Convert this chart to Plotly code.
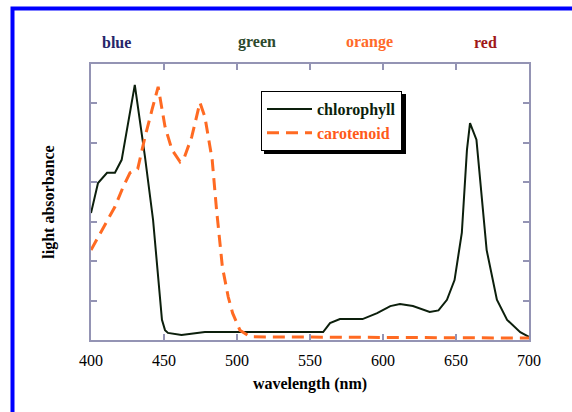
import plotly.graph_objects as go

# Chlorophyll absorbance
chl_wavelength = [400, 404.8, 411, 416.4, 421, 430, 437, 442.5, 448.6, 450.7, 452.7, 462, 478, 505,
                  559, 563.7, 570.5, 586, 596, 605, 611.6, 620.5, 632, 638, 643.8, 649, 654, 657.5,
                  659.6, 664, 668, 671, 678, 685, 694, 700]
chl_absorb = [3.22, 3.98, 4.24, 4.24, 4.57, 6.47, 4.64, 3.05, 0.51, 0.25, 0.18, 0.13, 0.2, 0.2,
              0.2, 0.43, 0.53, 0.53, 0.68, 0.86, 0.91, 0.86, 0.71, 0.75, 1.02, 1.52, 2.72, 4.82,
              5.5, 5.08, 3.55, 2.28, 1.02, 0.51, 0.2, 0.08]

# Carotenoid absorbance
car_wavelength = [400, 407.5, 416.4, 422, 426.7, 432, 437, 441.8, 446, 450.7, 455.5, 461, 464, 469,
                  474.6, 478, 483, 486, 488, 490, 494, 497, 502, 509, 700]
car_absorb = [2.28, 2.79, 3.38, 3.88, 4.24, 4.34, 5.15, 5.84, 6.42, 5.41, 4.82, 4.52, 4.64, 5.15,
              6.02, 5.66, 4.57, 3.3, 2.54, 1.85, 1.09, 0.68, 0.25, 0.08, 0.05]

x_ticks = [400, 450, 500, 550, 600, 650, 700]
x_tick_labels = ["400", "450", "500", "550", "600", "650", "700"]

color_names = ["blue", "green", "orange", "red"]
color_label_pos = [417.8, 513.7, 591, 670]
color_label_colors = ["#26266a", "#2e4a2e", "#ff6a2a", "#a01818"]

SERIF = "Liberation Serif"
FRAME = "#9494b4"

# plot area in pixels: left 91, right 529, top 64, bottom 340
def px_x(p):
    return (p - 91) / 438

def px_y(p):
    return (340 - p) / 276

fig = go.Figure()
fig.add_trace(go.Scatter(
    x=chl_wavelength, y=chl_absorb, mode="lines", name="<b>chlorophyll</b>",
    line=dict(color="#0c1f0c", width=2)))
fig.add_trace(go.Scatter(
    x=car_wavelength, y=car_absorb, mode="lines",
    name='<b><span style="color:#ff5a1a">carotenoid</span></b>',
    line=dict(color="#ff6a22", width=3, dash="12px,7px")))

annotations = []
for name, pos, col in zip(color_names, color_label_pos, color_label_colors):
    annotations.append(dict(x=pos, y=px_y(42), xref="x", yref="paper", yanchor="middle",
                            text="<b>" + name + "</b>", showarrow=False,
                            font=dict(family=SERIF, size=16, color=col)))

fig.update_layout(
    width=572, height=412,
    margin=dict(l=91, r=43, t=64, b=72),
    paper_bgcolor="white", plot_bgcolor="white",
    showlegend=True,
    legend=dict(x=px_x(261), y=px_y(91), xanchor="left", yanchor="top",
                bgcolor="white", bordercolor="black", borderwidth=1,
                font=dict(family=SERIF, size=16, color="#0c1f0c"),
                tracegroupgap=0, itemwidth=45),
    annotations=annotations,
    shapes=[
        # drop shadow of legend box
        dict(type="rect", xref="paper", yref="paper",
             x0=px_x(264), x1=px_x(406), y0=px_y(154), y1=px_y(94),
             fillcolor="black", line=dict(width=0), layer="below"),
        # blue page frame
        dict(type="rect", xref="paper", yref="paper",
             x0=px_x(12.5), x1=2, y0=-1, y1=px_y(8.5),
             line=dict(color="#0000ff", width=4), fillcolor="rgba(0,0,0,0)"),
    ],
    xaxis=dict(range=[400, 700], tickvals=x_ticks, ticktext=x_tick_labels,
               showline=True, linecolor=FRAME, linewidth=2, mirror="ticks",
               ticks="inside", ticklen=6, tickwidth=2, tickcolor=FRAME,
               ticklabelstandoff=5,
               showgrid=False, zeroline=False,
               tickfont=dict(family=SERIF, size=16, color="black"),
               title=dict(text="<b>wavelength (nm)</b>", standoff=10,
                          font=dict(family=SERIF, size=16, color="black"))),
    yaxis=dict(range=[0, 7], dtick=1, showticklabels=False,
               showline=True, linecolor=FRAME, linewidth=2, mirror="ticks",
               ticks="inside", ticklen=6, tickwidth=2, tickcolor=FRAME,
               showgrid=False, zeroline=False,
               title=dict(text="<b>light absorbance</b>", standoff=30,
                          font=dict(family=SERIF, size=16, color="black"))),
)

fig.write_html("out.html", config={"displayModeBar": False},
               post_script="document.body.style.margin='0px';document.body.style.overflow='hidden';")
